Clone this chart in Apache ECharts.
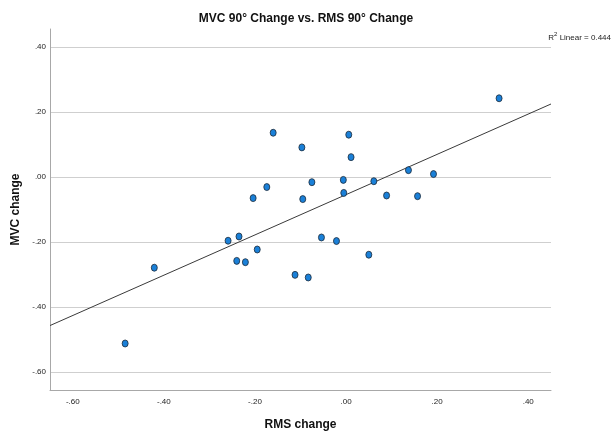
<!DOCTYPE html>
<html>
<head>
<meta charset="utf-8">
<script src="https://cdn.jsdelivr.net/npm/echarts@6/dist/echarts.min.js"></script>
<style>
  html, body { margin: 0; padding: 0; background: #fff; }
  #chart { width: 612px; height: 438px; }
</style>
</head>
<body>
<div id="chart"></div>
<script>
// RMS change (x) and MVC change (y) per participant
const rmsChange = [
  -0.485, -0.421, -0.259, -0.235, -0.240, -0.221, -0.195, -0.204, -0.174, -0.160,
  -0.112, -0.097, -0.095, -0.083, -0.075, -0.054, -0.021, -0.006, -0.005, 0.006,
  0.011, 0.050, 0.061, 0.089, 0.137, 0.157, 0.192, 0.336
];
const mvcChange = [
  -0.512, -0.279, -0.196, -0.183, -0.258, -0.262, -0.223, -0.065, -0.031, 0.136,
  -0.301, 0.091, -0.068, -0.309, -0.016, -0.186, -0.197, -0.009, -0.049, 0.130,
  0.061, -0.239, -0.013, -0.057, 0.021, -0.059, 0.009, 0.242
];
const xTicks = [-0.6, -0.4, -0.2, 0.0, 0.2, 0.4];
const yTicks = [-0.6, -0.4, -0.2, 0.0, 0.2, 0.4];
const xRange = [-0.65, 0.45];
const yRange = [-0.655, 0.455];

// ".40" / "-.20" style labels
function fmt(v) {
  const s = Math.abs(v).toFixed(2).replace(/^0/, '');
  return (v < -1e-9 ? '-' : '') + s;
}

// least-squares fit line
const n = rmsChange.length;
const mx = rmsChange.reduce((a, b) => a + b, 0) / n;
const my = mvcChange.reduce((a, b) => a + b, 0) / n;
let sxy = 0, sxx = 0;
for (let i = 0; i < n; i++) {
  sxy += (rmsChange[i] - mx) * (mvcChange[i] - my);
  sxx += (rmsChange[i] - mx) * (rmsChange[i] - mx);
}
const slope = sxy / sxx;
const intercept = my - slope * mx;
const fitLine = xRange.map(x => [x, intercept + slope * x]);

const points = rmsChange.map((x, i) => [x, mvcChange[i]]);
const font = '"Liberation Sans", Arial, sans-serif';

const chart = echarts.init(document.getElementById('chart'), null, { renderer: 'canvas' });
chart.setOption({
  animation: false,
  backgroundColor: '#fff',
  title: {
    text: 'MVC 90\u00b0 Change vs. RMS 90\u00b0 Change',
    left: 'center',
    top: 8,
    textStyle: { fontFamily: font, fontSize: 12, fontWeight: 'bold', color: '#111' }
  },
  graphic: [{
    type: 'text',
    right: 1,
    top: 31,
    style: {
      text: '{a|R}{s|2}{a| Linear = 0.444}',
      rich: {
        a: { fontFamily: font, fontSize: 8, fill: '#222', verticalAlign: 'bottom', lineHeight: 11 },
        s: { fontFamily: font, fontSize: 6, fill: '#222', verticalAlign: 'top', lineHeight: 11, padding: [0, 0, 4, 0] }
      }
    }
  }],
  grid: { left: 50, right: 61, top: 29, bottom: 48, containLabel: false },
  xAxis: {
    type: 'value',
    min: xRange[0],
    max: xRange[1],
    name: 'RMS change',
    nameLocation: 'middle',
    nameGap: 29,
    nameTextStyle: { fontFamily: font, fontSize: 12, fontWeight: 'bold', color: '#111' },
    axisLine: { show: true, onZero: false, lineStyle: { color: '#a8a8a8', width: 1 } },
    axisTick: { show: false, customValues: xTicks },
    axisLabel: {
      customValues: xTicks,
      formatter: fmt,
      fontFamily: font, fontSize: 8, color: '#222', margin: 8
    },
    splitLine: { show: false }
  },
  yAxis: {
    type: 'value',
    min: yRange[0],
    max: yRange[1],
    name: 'MVC change',
    nameLocation: 'middle',
    nameGap: 24,
    nameRotate: 90,
    nameTextStyle: { fontFamily: font, fontSize: 12, fontWeight: 'bold', color: '#111' },
    axisLine: { show: true, onZero: false, lineStyle: { color: '#a8a8a8', width: 1 } },
    axisTick: { show: false, customValues: yTicks },
    axisLabel: {
      customValues: yTicks,
      formatter: fmt,
      fontFamily: font, fontSize: 8, color: '#222', margin: 4
    },
    splitLine: { show: true, lineStyle: { color: '#cfcfcf', width: 1 } }
  },
  series: [
    {
      type: 'line',
      data: fitLine,
      symbol: 'none',
      lineStyle: { color: '#3a3a3a', width: 1 },
      silent: true,
      z: 2
    },
    {
      type: 'scatter',
      data: points,
      symbol: 'circle',
      symbolSize: [6, 7],
      itemStyle: { color: '#1a80d8', borderColor: '#1d2b3a', borderWidth: 0.8, opacity: 1 },
      z: 3
    }
  ]
});
</script>
</body>
</html>
